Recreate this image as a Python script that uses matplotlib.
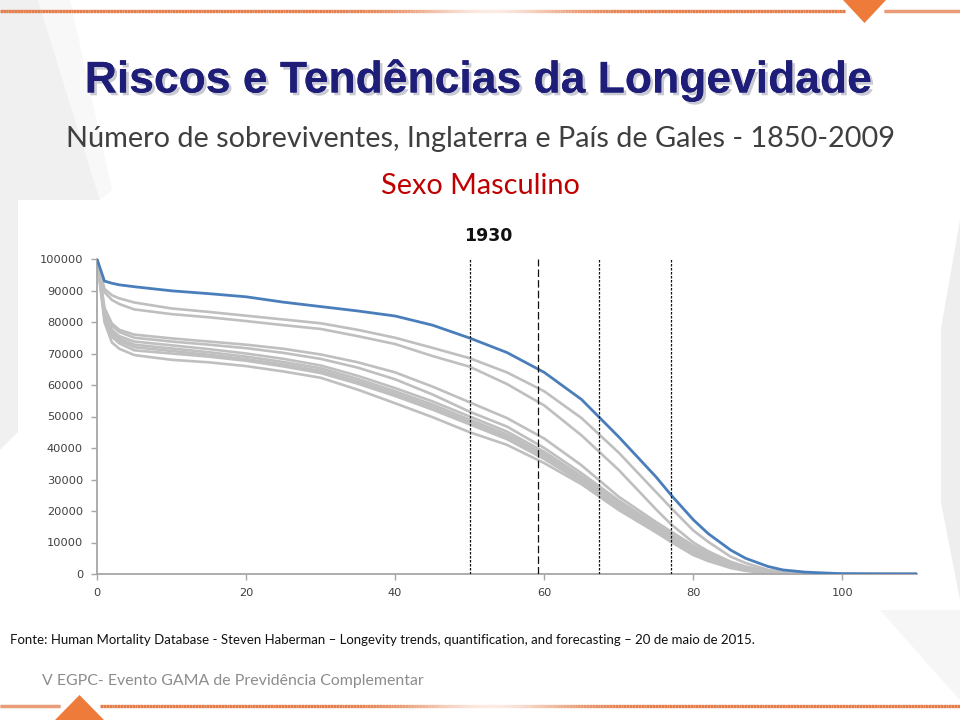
import matplotlib
matplotlib.use("Agg")
import matplotlib.pyplot as plt
import matplotlib.patheffects as pe
import numpy as np
from matplotlib.patches import Polygon, Rectangle
from matplotlib.collections import LineCollection

# ---------------- data ----------------
ages = [0, 1, 2, 3, 5, 10, 15, 20, 25, 30, 35, 40, 45, 50, 55, 60, 65, 70, 75, 77, 80, 82, 85, 87, 90, 92,
        95, 100, 105, 110]

year_label = "1930"
blue_1930 = [100000, 93000, 92300, 91800, 91200, 89900, 89000, 88000, 86300, 84900, 83500, 81900, 79000, 74900,
             70300, 64000, 55400, 43500, 30800, 25100, 17200, 12800, 7600, 5000, 2400, 1300,
             600, 80, 5, 0]

gray_upper_1 = [100000, 90500, 88500, 87500, 86200, 84300, 83200, 82000, 80800, 79600, 77500, 75000, 71800, 68500,
                64000, 58000, 49500, 38500, 26000, 21000, 13800, 10200, 5500, 3500, 1300, 650,
                200, 20, 0, 0]
gray_upper_2 = [100000, 89500, 87000, 85700, 84000, 82500, 81500, 80300, 79000, 77800, 75500, 73000, 69200, 65800,
                60300, 53500, 44000, 33000, 20500, 15800, 10000, 7200, 3900, 2400, 900, 450,
                120, 10, 0, 0]

gray_lower_1 = [100000, 84500, 79500, 77500, 76000, 74800, 73800, 72800, 71500, 69700, 67200, 64000, 59500, 54500,
                49500, 43000, 34500, 24500, 16500, 13500, 9000, 6500, 3600, 2000, 700, 250,
                60, 0, 0, 0]
gray_lower_2 = [100000, 84000, 78800, 76800, 75000, 73800, 72800, 71700, 70200, 68300, 65500, 61800, 57000, 51500,
                46800, 40000, 32000, 23300, 15700, 12800, 8500, 6100, 3300, 1800, 600, 220,
                50, 0, 0, 0]
gray_lower_3 = [100000, 83000, 77500, 75500, 73800, 72600, 71400, 70000, 68300, 66200, 62900, 59000, 54800, 50000,
                45200, 38800, 31000, 22600, 15200, 12300, 8000, 5700, 3000, 1600, 500, 190,
                40, 0, 0, 0]
gray_lower_4 = [100000, 82500, 76800, 74700, 72800, 71600, 70400, 69000, 67300, 65300, 61900, 58000, 53800, 49000,
                44300, 38000, 30300, 22000, 14700, 11800, 7500, 5300, 2700, 1450, 450, 170,
                35, 0, 0, 0]
gray_lower_5 = [100000, 82000, 76000, 74000, 72000, 70800, 69600, 68200, 66500, 64500, 61100, 57200, 53000, 48200,
                43500, 37300, 29800, 21500, 14300, 11300, 7000, 4900, 2500, 1300, 400, 150,
                30, 0, 0, 0]
gray_lower_6 = [100000, 81500, 75300, 73200, 71000, 70000, 69000, 67700, 65900, 63800, 60400, 56500, 52200, 47500,
                42800, 36500, 29200, 21000, 13800, 10800, 6500, 4500, 2200, 1150, 350, 130,
                25, 0, 0, 0]
gray_lower_7 = [100000, 80000, 73500, 71500, 69500, 68000, 67200, 66000, 64300, 62300, 58500, 54200, 49800, 45000,
                41000, 35200, 28500, 20300, 13200, 10200, 6000, 4100, 1900, 1000, 300, 110,
                20, 0, 0, 0]

gray_series = [gray_upper_1, gray_upper_2, gray_lower_1, gray_lower_2, gray_lower_3,
               gray_lower_4, gray_lower_5, gray_lower_6, gray_lower_7]

ref_ages = [50, 59.2, 67.4, 77]
ref_styles = [(0, (2, 1.2)), (0, (6, 2.5)), (0, (2, 1.2)), (0, (2, 1.2))]

yticks = list(range(0, 100001, 10000))
xticks = [0, 20, 40, 60, 80, 100]

title = "Riscos e Tendências da Longevidade"
subtitle = "Número de sobreviventes, Inglaterra e País de Gales - 1850-2009"
sex_label = "Sexo Masculino"
source = ("Fonte: Human Mortality Database - Steven Haberman – Longevity trends, quantification, "
          "and forecasting – 20 de maio de 2015.")
footer = "V EGPC- Evento GAMA de Previdência Complementar"

# ---------------- figure ----------------
W, H = 960, 720
fig = plt.figure(figsize=(9.6, 7.2), dpi=100)
fig.patch.set_facecolor("white")

bg = fig.add_axes([0, 0, 1, 1])
bg.set_xlim(0, W)
bg.set_ylim(H, 0)
bg.axis("off")

# faint background wedges
bg.add_patch(Polygon([(0, 0), (38, 0), (100, 200), (20, 430), (0, 450)], closed=True,
                     facecolor="#F0F0F0", edgecolor="none", zorder=0))
bg.add_patch(Polygon([(38, 0), (70, 0), (112, 190), (100, 200)], closed=True,
                     facecolor="#F8F8F8", edgecolor="none", zorder=0))
bg.add_patch(Polygon([(960, 220), (925, 420), (960, 600)], closed=True,
                     facecolor="#EEEEEE", edgecolor="none", zorder=0))
bg.add_patch(Polygon([(880, 610), (960, 610), (960, 700)], closed=True,
                     facecolor="#F6F6F6", edgecolor="none", zorder=0))

# chart picture background
bg.add_patch(Rectangle((18, 200), 923, 397, facecolor="white", edgecolor="none", zorder=1))

# orange lines with gradient fade
def gradient_line(y, x0, x1, center, width):
    xs = np.linspace(x0, x1, 300)
    segs = [[(xs[i], y), (xs[i + 1], y)] for i in range(len(xs) - 1)]
    mids = (xs[:-1] + xs[1:]) / 2
    a = 1 - 0.85 * np.exp(-((mids - center) / width) ** 2)
    cols = [(0.89, 0.49, 0.29, ai) for ai in a]
    bg.add_collection(LineCollection(segs, colors=cols, linewidths=2.4, zorder=2))

gradient_line(11, 0, 845, 490, 80)
gradient_line(11, 884, 960, 2000, 10)
bg.add_patch(Polygon([(843, 0), (886, 0), (864.5, 23)], closed=True,
                     facecolor="#EE7B3A", edgecolor="none", zorder=3))

gradient_line(706, 0, 60, 2000, 10)
gradient_line(706, 100, 960, 490, 80)
bg.add_patch(Polygon([(55, 720), (104, 720), (79.5, 695)], closed=True,
                     facecolor="#EE7B3A", edgecolor="none", zorder=3))

# titles
bg.text(479, 80, title, ha="center", va="center", fontsize=32, fontweight="bold",
        family="Liberation Sans", color="#1E1E78", zorder=5,
        path_effects=[pe.withSimplePatchShadow(offset=(2, -2), shadow_rgbFace="#8888A0", alpha=0.45),
                      pe.Normal()])
bg.text(480, 139, subtitle, ha="center", va="center", fontsize=20.8,
        family="Lato", color="#3F3F3F", zorder=5)
bg.text(480, 186, sex_label, ha="center", va="center", fontsize=20.8,
        family="Lato", color="#C00000", zorder=5)
bg.text(488, 236, year_label, ha="center", va="center", fontsize=12.5, fontweight="bold",
        family="DejaVu Sans", color="#111111", zorder=5)

bg.text(10, 640, source, ha="left", va="center", fontsize=9.5,
        family="Lato", color="#111111", zorder=5)
bg.text(42, 681, footer, ha="left", va="center", fontsize=11.4,
        family="Lato", color="#8C8C8C", zorder=5)

# ---------------- chart ----------------
ax = fig.add_axes([97 / W, (H - 574) / H, 820 / W, (574 - 259) / H])
ax.set_facecolor("none")
ax.set_xlim(0, 110)
ax.set_ylim(0, 100000)

for s in gray_series:
    ax.plot(ages, s, color="#BFBFBF", lw=1.9, solid_capstyle="round", solid_joinstyle="round", zorder=2)
ax.plot(ages, blue_1930, color="#4A7EBB", lw=2.0, solid_capstyle="round", solid_joinstyle="round", zorder=3)

for a, ls in zip(ref_ages, ref_styles):
    ax.plot([a, a], [0, 100000], color="#111111", lw=0.9, linestyle=ls, zorder=4)

for side in ("top", "right"):
    ax.spines[side].set_visible(False)
for side in ("left", "bottom"):
    ax.spines[side].set_color("#A6A6A6")
    ax.spines[side].set_linewidth(1.3)

ax.set_yticks(yticks)
ax.set_yticklabels([str(v) for v in yticks])
ax.set_xticks(xticks)
ax.set_xticklabels([str(v) for v in xticks])
ax.tick_params(axis="both", colors="#A6A6A6", labelcolor="#404040", labelsize=8.2,
               length=4, width=1.0, direction="out")
ax.tick_params(axis="y", pad=6)
ax.tick_params(axis="x", pad=6)
for lbl in ax.get_xticklabels() + ax.get_yticklabels():
    lbl.set_family("DejaVu Sans")

fig.savefig("out.png", dpi=100, facecolor="white")
